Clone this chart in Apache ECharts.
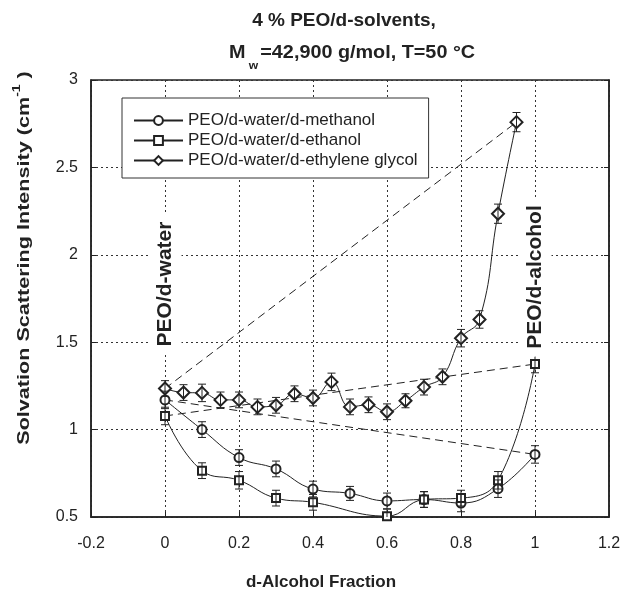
<!DOCTYPE html>
<html><head><meta charset="utf-8">
<script src="https://cdn.jsdelivr.net/npm/echarts@6/dist/echarts.min.js"></script>
<style>html,body{margin:0;padding:0;background:#fff}#c{width:622px;height:590px}</style>
</head><body><div id="c"></div>
<script>
// ---- data ----
const seriesNames = ['PEO/d-water/d-methanol', 'PEO/d-water/d-ethanol', 'PEO/d-water/d-ethylene glycol'];
const xMeOH = [0, 0.1, 0.2, 0.3, 0.4, 0.5, 0.6, 0.7, 0.8, 0.9, 1.0];
const yMeOH = [1.17, 1.00, 0.84, 0.775, 0.66, 0.635, 0.592, 0.60, 0.58, 0.662, 0.858];
const eMeOH = [0.05, 0.045, 0.045, 0.045, 0.045, 0.04, 0.045, 0.045, 0.05, 0.05, 0.05];
const xEtOH = [0, 0.1, 0.2, 0.3, 0.4, 0.6, 0.7, 0.8, 0.9, 1.0];
const yEtOH = [1.078, 0.765, 0.71, 0.608, 0.584, 0.505, 0.60, 0.608, 0.71, 1.375];
const eEtOH = [0.05, 0.045, 0.05, 0.045, 0.045, 0.04, 0.045, 0.045, 0.05, 0.05];
const xEG = [0, 0.05, 0.1, 0.15, 0.2, 0.25, 0.3, 0.35, 0.4, 0.45, 0.5, 0.55, 0.6, 0.65, 0.7, 0.75, 0.8, 0.85, 0.9, 0.95];
const yEG = [1.235, 1.212, 1.21, 1.17, 1.17, 1.13, 1.139, 1.205, 1.181, 1.273, 1.13, 1.142, 1.102, 1.165, 1.243, 1.302, 1.523, 1.63, 2.235, 2.759];
const eEG = [0.045, 0.045, 0.05, 0.045, 0.045, 0.045, 0.045, 0.045, 0.045, 0.05, 0.045, 0.045, 0.045, 0.04, 0.045, 0.045, 0.05, 0.05, 0.055, 0.055];
const xTickMin = -0.2, xTickMax = 1.2, xTickStep = 0.2;
const yTickMin = 0.5, yTickMax = 3, yTickStep = 0.5;
const titleLine1 = '4 % PEO/d-solvents,';
const xTitle = 'd-Alcohol Fraction';
const leftNote = 'PEO/d-water';
const rightNote = 'PEO/d-alcohol';

// ---- chart ----
const FF = '"Liberation Sans", Arial, Helvetica, sans-serif';
const INK = '#222';
const pairs = (xs, ys) => xs.map((x, i) => [x, ys[i]]);
const triples = (xs, ys, es) => xs.map((x, i) => [x, ys[i], es[i]]);
const ends = (xs, ys) => [[xs[0], ys[0]], [xs[xs.length - 1], ys[ys.length - 1]]];

function errRender(params, api) {
  const x = api.value(0), y = api.value(1), e = api.value(2);
  const lo = api.coord([x, y - e]), hi = api.coord([x, y + e]);
  const c = 4;
  const st = { stroke: INK, lineWidth: 1 };
  return { type: 'group', children: [
    { type: 'line', shape: { x1: lo[0], y1: lo[1], x2: hi[0], y2: hi[1] }, style: st },
    { type: 'line', shape: { x1: lo[0] - c, y1: lo[1], x2: lo[0] + c, y2: lo[1] }, style: st },
    { type: 'line', shape: { x1: hi[0] - c, y1: hi[1], x2: hi[0] + c, y2: hi[1] }, style: st }
  ]};
}
function lineSeries(name, data, symbol, size) {
  return { name, type: 'line', data, symbol, symbolSize: size, smooth: 0.45,
    color: INK, lineStyle: { color: INK, width: 1 }, itemStyle: { color: INK, borderWidth: 1 },
    z: 3, animation: false, clip: true };
}
function dashSeries(data) {
  return { type: 'line', data, symbol: 'none', silent: true, color: INK,
    lineStyle: { color: INK, width: 1, type: [8, 5] }, z: 2, animation: false };
}
function errSeries(data) {
  return { type: 'custom', data, renderItem: errRender, encode: { x: 0, y: 1 }, clip: true, z: 4, silent: true, animation: false };
}

const chart = echarts.init(document.getElementById('c'), null, { renderer: 'canvas' });
const fmt = v => String(Number(v.toFixed(1)));
chart.setOption({
  backgroundColor: '#fff',
  animation: false,
  textStyle: { fontFamily: FF, color: INK },
  grid: { left: 91, top: 80, right: 13, bottom: 73, show: true, borderColor: INK, borderWidth: 1.5, outerBoundsMode: 'none', containLabel: false },
  xAxis: { type: 'value', min: xTickMin, max: xTickMax, interval: xTickStep,
    axisLine: { show: true, onZero: false, lineStyle: { color: INK, width: 1.5 } },
    axisTick: { show: true, inside: true, length: 5, lineStyle: { color: INK } },
    axisLabel: { formatter: fmt, fontSize: 16, color: INK, margin: 19, fontFamily: FF },
    splitLine: { show: true, lineStyle: { color: '#333', width: 1, type: [2, 3] } } },
  yAxis: [
    { type: 'value', min: yTickMin, max: yTickMax, interval: yTickStep,
      axisLine: { show: true, onZero: false, lineStyle: { color: INK, width: 1.5 } },
      axisTick: { show: true, inside: true, length: 5, lineStyle: { color: INK } },
      axisLabel: { formatter: fmt, fontSize: 16, color: INK, margin: 13, fontFamily: FF },
      splitLine: { show: true, lineStyle: { color: '#333', width: 1, type: [2, 3] } } },
    { type: 'value', position: 'right', min: yTickMin, max: yTickMax, interval: yTickStep,
      axisLine: { show: true, onZero: false, lineStyle: { color: INK, width: 1.5 } },
      axisTick: { show: true, inside: true, length: 5, lineStyle: { color: INK } },
      axisLabel: { show: false }, splitLine: { show: false } }
  ],
  legend: { data: seriesNames, orient: 'vertical', left: 122, top: 98,
    padding: [14, 11, 9, 11], itemGap: 3, itemWidth: 49, itemHeight: 11,
    backgroundColor: '#fff', borderColor: '#333', borderWidth: 1, z: 20,
    textStyle: { fontSize: 17, lineHeight: 14, color: INK, fontFamily: FF } },
  series: [
    dashSeries(ends(xMeOH, yMeOH)),
    dashSeries(ends(xEtOH, yEtOH)),
    dashSeries(ends(xEG, yEG)),
    lineSeries(seriesNames[0], pairs(xMeOH, yMeOH), 'emptyCircle', 9),
    lineSeries(seriesNames[1], pairs(xEtOH, yEtOH), 'emptyRect', 8),
    lineSeries(seriesNames[2], pairs(xEG, yEG), 'emptyDiamond', [12, 12]),
    errSeries(triples(xMeOH, yMeOH, eMeOH)),
    errSeries(triples(xEtOH, yEtOH, eEtOH)),
    errSeries(triples(xEG, yEG, eEG))
  ],
  graphic: [
    { type: 'text', x: 344, y: 21, z: 30, style: { text: titleLine1, font: 'bold 19px ' + FF, fill: INK, align: 'center', verticalAlign: 'middle' } },
    { type: 'text', x: 352, y: 53, scaleX: 1.1, z: 30, style: {
        text: '{m|M}{w|w}{m|=42,900 g/mol, T=50 °C}', align: 'center', verticalAlign: 'middle', fill: INK,
        rich: { m: { font: 'bold 18px ' + FF, lineHeight: 36, verticalAlign: 'middle', fill: INK },
                w: { font: 'bold 11px ' + FF, lineHeight: 11, verticalAlign: 'bottom', padding: [0, 2, 0, 3], fill: INK } } } },
    { type: 'text', x: 24, y: 258, rotation: Math.PI / 2, scaleX: 1.27, z: 30, style: {
        text: '{m|Solvation Scattering Intensity (cm}{s|-1}{m| )}', align: 'center', verticalAlign: 'middle', fill: INK,
        rich: { m: { font: 'bold 17px ' + FF, lineHeight: 26, verticalAlign: 'middle', fill: INK },
                s: { font: 'bold 11px ' + FF, lineHeight: 11, verticalAlign: 'top', fill: INK } } } },
    { type: 'text', x: 321, y: 582, z: 30, style: { text: xTitle, font: 'bold 17px ' + FF, fill: INK, align: 'center', verticalAlign: 'middle' } },
    { type: 'text', x: 165, y: 284, rotation: Math.PI / 2, z: 30, style: { text: leftNote, font: 'bold 21px ' + FF, fill: INK, align: 'center', verticalAlign: 'middle', backgroundColor: '#fff', padding: [6, 8] } },
    { type: 'text', x: 535, y: 277, rotation: Math.PI / 2, z: 30, style: { text: rightNote, font: 'bold 21px ' + FF, fill: INK, align: 'center', verticalAlign: 'middle', backgroundColor: '#fff', padding: [6, 8] } }
  ]
});
</script></body></html>
